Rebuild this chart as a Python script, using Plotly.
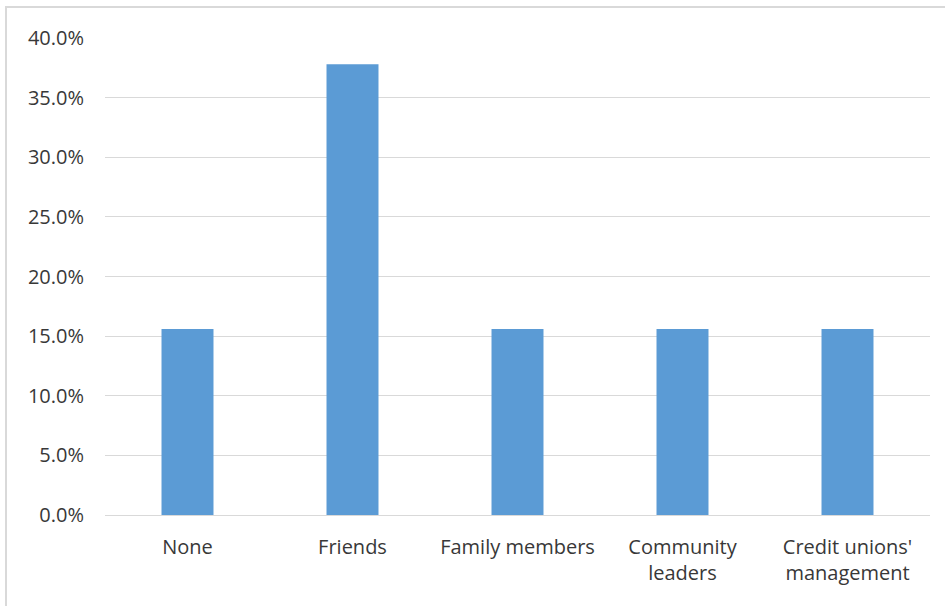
import plotly.graph_objects as go

categories = ["None", "Friends", "Family members", "Community<br>leaders", "Credit unions'<br>management"]
values = [0.156, 0.378, 0.156, 0.156, 0.156]
y_ticks = [0, 0.05, 0.10, 0.15, 0.20, 0.25, 0.30, 0.35, 0.40]

fig = go.Figure(go.Bar(x=categories, y=values, marker=dict(color="#5B9BD5", line=dict(width=0)), width=0.315))

font = dict(family="Open Sans, Noto Sans, sans-serif", size=20, color="#383838")
fig.update_layout(
    width=945, height=606,
    margin=dict(l=105, r=15, t=38, b=91),
    plot_bgcolor="white", paper_bgcolor="white",
    font=font,
    showlegend=False,
    bargap=0.685,
    xaxis=dict(showgrid=False, showline=True, linecolor="#D9D9D9", linewidth=1, ticks="",
               ticklabelstandoff=14, tickfont=font),
    yaxis=dict(range=[0, 0.40], tickvals=y_ticks, tickformat=".1%", showgrid=True,
               gridcolor="#D9D9D9", gridwidth=1, zeroline=False, showline=False, ticks="",
               ticklabelstandoff=20, tickfont=font),
    shapes=[dict(type="rect", xref="paper", yref="paper", x0=-99/825, x1=1.2, y0=-0.5, y1=1 + 31/477,
                 line=dict(color="#D9D9D9", width=2), fillcolor="rgba(0,0,0,0)", layer="below")],
)
fig.write_html("out.html")
